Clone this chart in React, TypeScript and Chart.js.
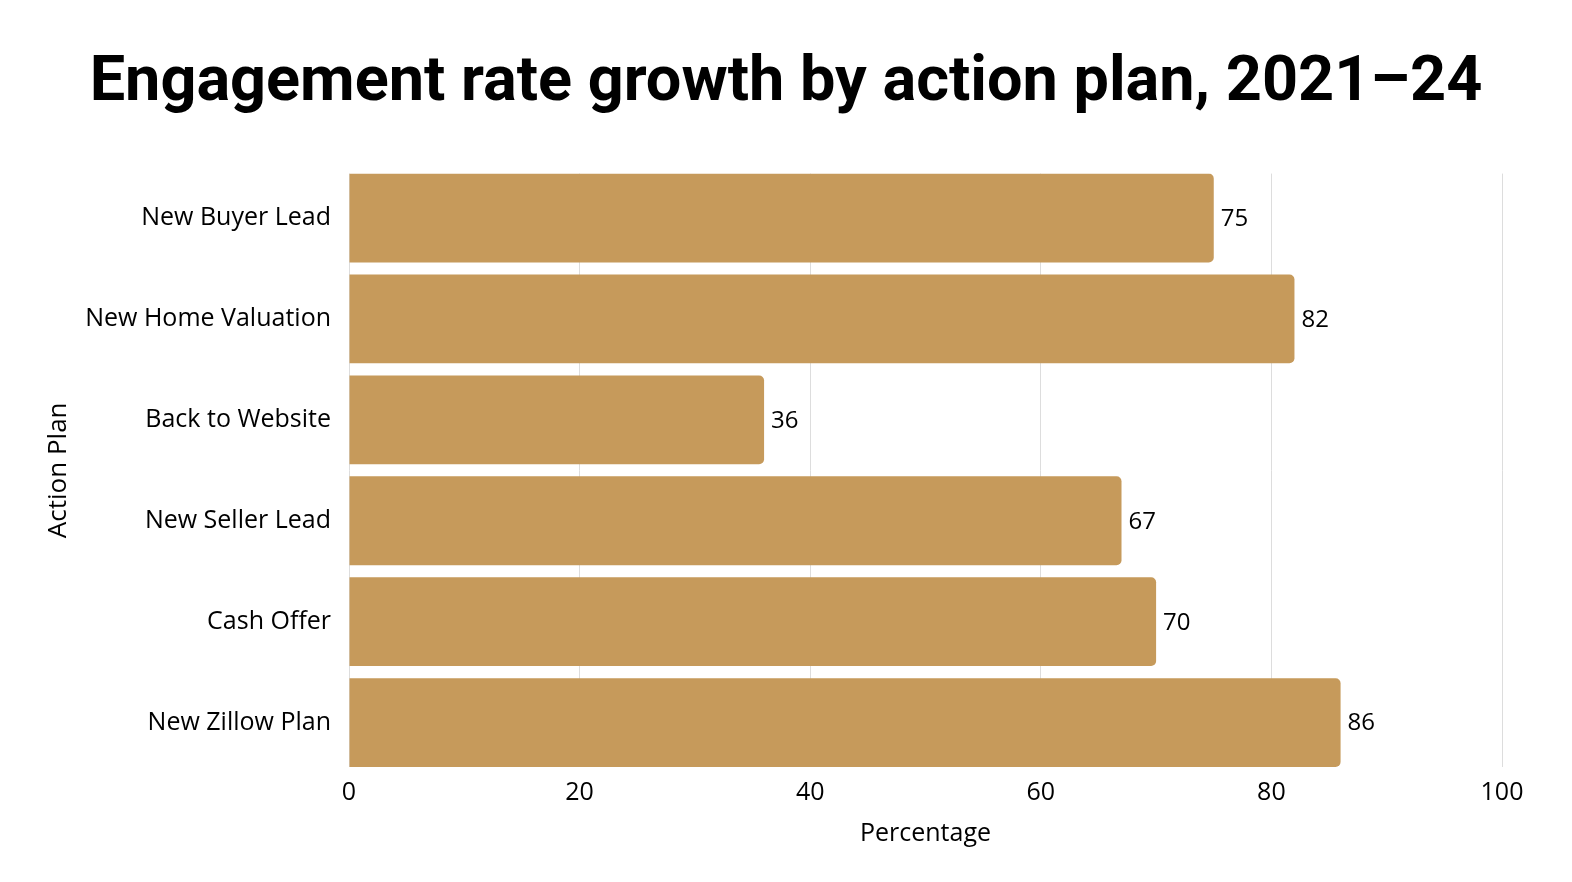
import React, { useEffect, useRef } from "react";
import { Chart, registerables } from "chart.js";
Chart.register(...registerables);

const categories = ["New Buyer Lead", "New Home Valuation", "Back to Website", "New Seller Lead", "Cash Offer", "New Zillow Plan"];
const values = [75, 82, 36, 67, 70, 86];
const xTicks = [0, 20, 40, 60, 80, 100];

const TITLE = "Engagement rate growth by action plan, 2021–24";

const valueLabels = {
  id: "valueLabels",
  afterDatasetsDraw(chart: any) {
    const ctx = chart.ctx;
    const meta = chart.getDatasetMeta(0);
    ctx.save();
    ctx.font = "24px 'Open Sans'";
    ctx.fillStyle = "#000";
    ctx.textAlign = "left";
    ctx.textBaseline = "middle";
    meta.data.forEach((bar: any, i: number) => {
      ctx.fillText(String(values[i]), bar.x + 7, bar.y + 1);
    });
    ctx.restore();
  },
};

export default function App() {
  const ref = useRef<HTMLCanvasElement>(null);
  useEffect(() => {
    document.body.style.margin = "0";
    const c = ref.current!;
    const chart = new Chart(c, {
      type: "bar",
      data: {
        datasets: [
          {
            data: values.map((v, i) => ({ x: v, y: i })),
            backgroundColor: "#C69A5B",
            borderRadius: 5,
            barPercentage: 0.88,
            categoryPercentage: 1,
          },
        ],
      },
      plugins: [valueLabels],
      options: {
        animation: false,
        responsive: false,
        indexAxis: "y",
        layout: { padding: { left: 0, right: 0, top: 0, bottom: 0 } },
        plugins: {
          legend: { display: false },
          tooltip: { enabled: false },
          title: {
            display: true,
            text: TITLE,
            color: "#000",
            font: { family: "Roboto", size: 63, weight: "bold" },
            padding: { top: 46, bottom: 52 },
          },
        },
        scales: {
          y: {
            type: "linear",
            reverse: true,
            offset: false,
            min: -0.44,
            max: 5.44,
            afterBuildTicks: (s: any) => {
              s.ticks = categories.map((_, i) => ({ value: i }));
            },
            afterFit: (s: any) => {
              s.width = 349;
            },
            ticks: {
              callback: (v: any) => categories[v],
              color: "#000",
              font: { family: "'Open Sans'", size: 25 },
              padding: 18,
            },
            grid: { display: false, drawTicks: false },
            border: { display: false },
            title: {
              display: true,
              text: "Action Plan",
              color: "#000",
              font: { family: "'Open Sans'", size: 26 },
              padding: { top: 43, bottom: 0 },
            },
          },
          yRight: {
            type: "linear",
            position: "right",
            display: true,
            grid: { display: false, drawTicks: false },
            border: { display: false },
            ticks: { display: false },
            afterFit: (s: any) => {
              s.width = 70;
            },
          },
          x: {
            type: "linear",
            min: 0,
            max: 100,
            afterBuildTicks: (s: any) => {
              s.ticks = xTicks.map((v) => ({ value: v }));
            },
            afterFit: (s: any) => {
              s.height = 115;
            },
            ticks: {
              color: "#000",
              font: { family: "'Open Sans'", size: 25 },
              padding: 11,
            },
            grid: { color: "#DDDDDD", lineWidth: 1, drawTicks: false },
            border: { display: false },
            title: {
              display: true,
              text: "Percentage",
              color: "#000",
              font: { family: "'Open Sans'", size: 25 },
              padding: { top: 0, bottom: 33 },
            },
          },
        },
      },
    });
    return () => chart.destroy();
  }, []);
  return (
    <div style={{ position: "relative", width: 1572, height: 882 }}>
      <canvas ref={ref} width={1572} height={882} style={{ display: "block", width: 1572, height: 882 }} />
    </div>
  );
}
